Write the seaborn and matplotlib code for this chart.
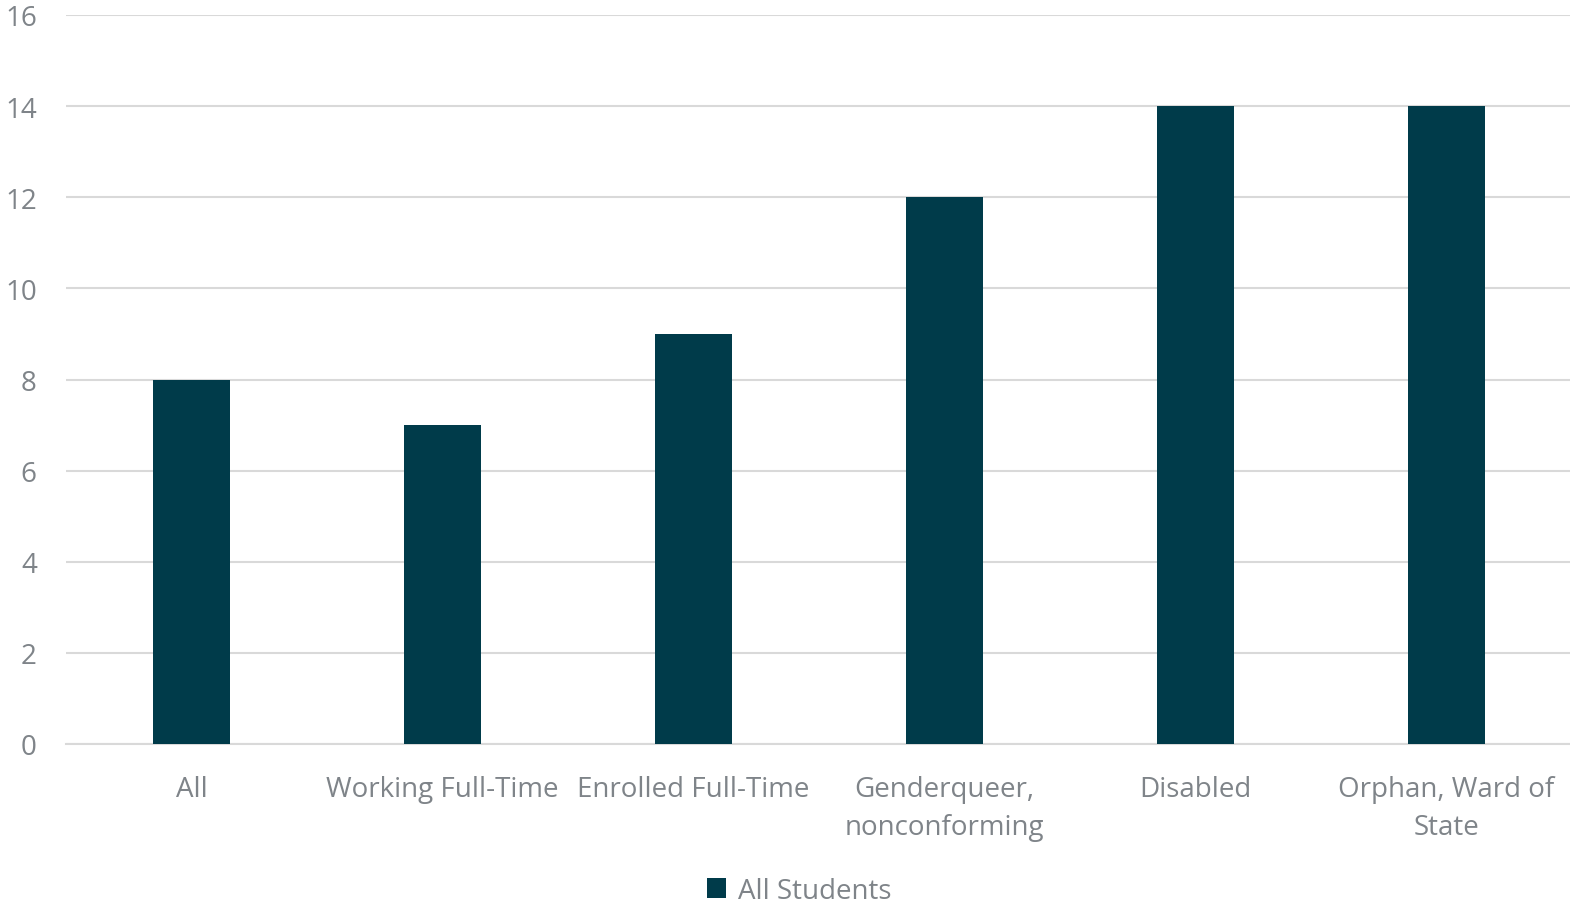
import matplotlib
matplotlib.use("Agg")
import matplotlib.pyplot as plt
import seaborn as sns
import pandas as pd

categories = ["All", "Working Full-Time", "Enrolled Full-Time",
              "Genderqueer,\nnonconforming", "Disabled", "Orphan, Ward of\nState"]
values = [8, 7, 9, 12, 14, 14]
series_name = "All Students"

df = pd.DataFrame({"cat": categories, "val": values, "series": series_name})

sns.set_theme(style="white")
plt.rcParams["font.family"] = ["Open Sans", "DejaVu Sans"]

bar_color = "#003B4A"
text_color = "#7F8489"

fig = plt.figure(figsize=(15.7, 9.04), dpi=100)
ax = fig.add_axes([66 / 1570, 1 - 745 / 904, 1506 / 1570, 729 / 904])

sns.barplot(data=df, x="cat", y="val", hue="series", palette=[bar_color],
            saturation=1, width=0.31, linewidth=0, ax=ax, zorder=3, legend=True)

ax.set_ylim(0, 16)
ax.set_yticks(range(0, 17, 2))
ax.set_xlim(-0.5, len(categories) - 0.5)
ax.grid(axis="y", color="#D9D9D9", linewidth=1.5, zorder=0)
for s in ["top", "right", "left"]:
    ax.spines[s].set_visible(False)
ax.spines["bottom"].set_color("#D9D9D9")
ax.spines["bottom"].set_linewidth(1.5)
ax.set_xlabel("")
ax.set_ylabel("")
ax.tick_params(axis="both", length=0, labelsize=20, labelcolor=text_color)
ax.tick_params(axis="y", pad=21)
ax.tick_params(axis="x", pad=22)
for lbl in ax.get_xticklabels():
    lbl.set_linespacing(1.5)

ax.legend(loc="upper center", bbox_to_anchor=(0.5 - 20 / 1506, -0.148), frameon=False,
          fontsize=20, labelcolor=text_color, handlelength=0.7, handleheight=0.7,
          handletextpad=0.4)

fig.savefig("out.png", dpi=100)
